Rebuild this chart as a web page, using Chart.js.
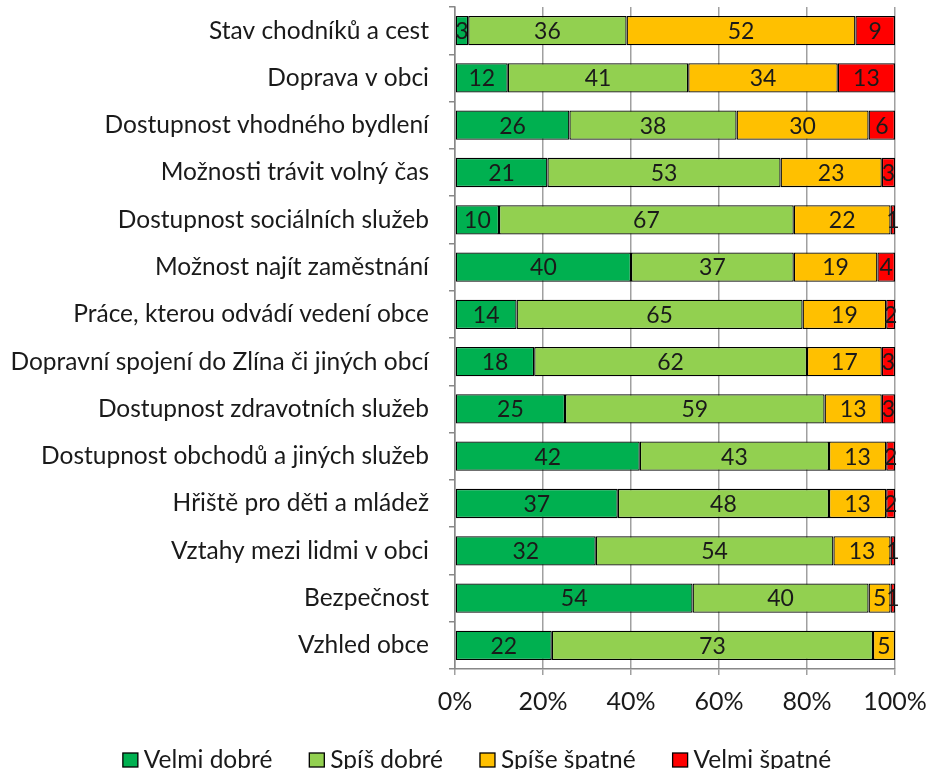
<!DOCTYPE html>
<html>
<head>
<meta charset="utf-8">
<script src="https://cdn.jsdelivr.net/npm/chart.js@4/dist/chart.umd.min.js"></script>
<style>
html,body{margin:0;padding:0;background:#fff;}
#wrap{width:930px;height:769px;position:relative;}
</style>
</head>
<body>
<div id="wrap"><canvas id="c" width="930" height="769"></canvas></div>
<script>
const categories = [
  "Stav chodníků a cest",
  "Doprava v obci",
  "Dostupnost vhodného bydlení",
  "Možnosti trávit volný čas",
  "Dostupnost sociálních služeb",
  "Možnost najít zaměstnání",
  "Práce, kterou odvádí vedení obce",
  "Dopravní spojení do Zlína či jiných obcí",
  "Dostupnost zdravotních služeb",
  "Dostupnost obchodů a jiných služeb",
  "Hřiště pro děti a mládež",
  "Vztahy mezi lidmi v obci",
  "Bezpečnost",
  "Vzhled obce"
];
const velmiDobre  = [3, 12, 26, 21, 10, 40, 14, 18, 25, 42, 37, 32, 54, 22];
const spisDobre   = [36, 41, 38, 53, 67, 37, 65, 62, 59, 43, 48, 54, 40, 73];
const spiseSpatne = [52, 34, 30, 23, 22, 19, 19, 17, 13, 13, 13, 13, 5, 5];
const velmiSpatne = [9, 13, 6, 3, 1, 4, 2, 3, 3, 2, 2, 1, 1, 0];
const seriesNames = ["Velmi dobré", "Spíš dobré", "Spíše špatné", "Velmi špatné"];
const xTicks = ["0%", "20%", "40%", "60%", "80%", "100%"];

const FONT = "Lato, 'Open Sans', sans-serif";
const TEXT = "#1a1a1a";

const labelPlugin = {
  id: 'segLabels',
  afterDatasetsDraw(chart) {
    const ctx = chart.ctx;
    ctx.save();
    ctx.font = "23px " + FONT;
    ctx.fillStyle = TEXT;
    ctx.textAlign = "center";
    ctx.textBaseline = "middle";
    chart.data.datasets.forEach((ds, di) => {
      const meta = chart.getDatasetMeta(di);
      meta.data.forEach((bar, i) => {
        const v = ds.data[i];
        if (!v) return;
        const p = bar.getProps(['x','y','base'], true);
        ctx.fillText(String(v), (p.x + p.base) / 2, p.y + 1);
      });
    });
    ctx.restore();
  }
};

const legendPlugin = {
  id: 'bottomLegend',
  afterDraw(chart) {
    const ctx = chart.ctx;
    ctx.save();
    ctx.font = "24.5px " + FONT;
    ctx.textBaseline = "middle";
    ctx.textAlign = "left";
    const box = 15, gap = 6, spacing = 37;
    const items = chart.data.datasets.map(ds => ({
      label: ds.label, color: ds.backgroundColor, w: ctx.measureText(ds.label).width
    }));
    const total = items.reduce((s, it) => s + box + gap + it.w, 0) + spacing * (items.length - 1);
    let x = chart.width / 2 + 12 - total / 2;
    const cy = 760;
    items.forEach(it => {
      ctx.fillStyle = it.color;
      ctx.fillRect(x, cy - 7, box, 14);
      ctx.strokeStyle = "#000";
      ctx.lineWidth = 1.3;
      ctx.strokeRect(x, cy - 7, box, 14);
      ctx.fillStyle = TEXT;
      ctx.fillText(it.label, x + box + gap, cy);
      x += box + gap + it.w + spacing;
    });
    ctx.restore();
  }
};

const colors = ["#00B050", "#92D050", "#FFC000", "#FF0000"];
const dataArrs = [velmiDobre, spisDobre, spiseSpatne, velmiSpatne];

new Chart(document.getElementById('c'), {
  type: 'bar',
  data: {
    labels: categories,
    datasets: dataArrs.map((d, i) => ({
      label: seriesNames[i],
      data: d,
      backgroundColor: colors[i],
      borderColor: "#000",
      borderWidth: 1.3,
      borderSkipped: false,
      categoryPercentage: 0.62,
      barPercentage: 1.0
    }))
  },
  options: {
    indexAxis: 'y',
    responsive: false,
    animation: false,
    layout: { padding: { left: 8, right: 35, top: 7, bottom: 40 } },
    scales: {
      x: {
        stacked: true,
        min: 0, max: 100,
        ticks: {
          stepSize: 20,
          color: TEXT,
          font: { family: FONT, size: 25 },
          padding: 12,
          callback: (v, idx) => xTicks[idx]
        },
        grid: { color: "#a0a0a0", lineWidth: 1.5, tickLength: 6, drawOnChartArea: true },
        border: { display: true, color: "#888", width: 1.5 },
        afterFit: s => { s.paddingLeft = 0; s.paddingRight = 0; }
      },
      y: {
        stacked: true,
        ticks: {
          color: TEXT,
          font: { family: FONT, size: 24.5 },
          padding: 20
        },
        grid: { drawOnChartArea: false, drawTicks: true, tickLength: 6, color: "#888", lineWidth: 1.5, offset: true },
        border: { display: true, color: "#888", width: 1.5 },
        afterFit: s => { s.width = 447; s.paddingTop = 0; s.paddingBottom = 0; }
      }
    },
    plugins: {
      legend: { display: false },
      tooltip: { enabled: false }
    }
  },
  plugins: [labelPlugin, legendPlugin]
});
</script>
</body>
</html>
